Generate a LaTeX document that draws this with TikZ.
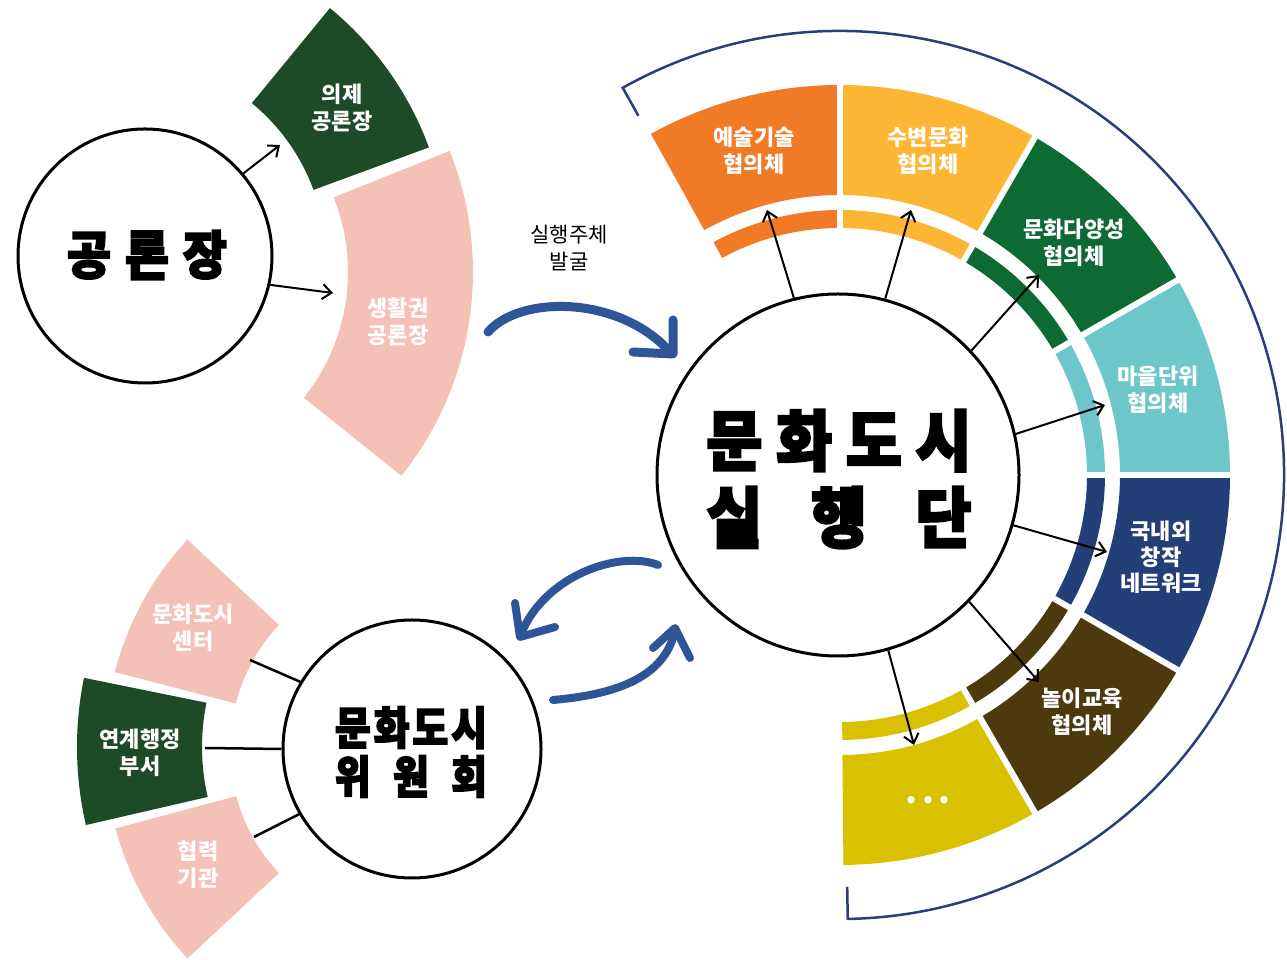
\documentclass[tikz,border=0pt]{standalone}
\usepackage{fontspec}
\usetikzlibrary{arrows.meta,calc}
\newfontfamily\kr{Noto Sans CJK KR}
\newfontfamily\krheavy[BoldFeatures={FakeBold=3.5,FakeStretch=0.92}]{Noto Sans CJK KR}
\newfontfamily\krheavynarrow[BoldFeatures={FakeBold=3.5,FakeStretch=0.86}]{Noto Sans CJK KR}
\definecolor{corange}{HTML}{F07A26}
\definecolor{clorange}{HTML}{FCB634}
\definecolor{cdgreen}{HTML}{0D6A33}
\definecolor{cteal}{HTML}{6CC6CA}
\definecolor{cnavy}{HTML}{233F77}
\definecolor{cbrown}{HTML}{4D390E}
\definecolor{colive}{HTML}{D8C200}
\definecolor{cforest}{HTML}{1D4A27}
\definecolor{cpink}{HTML}{F4C1B6}
\definecolor{cblue}{HTML}{2E5597}
\definecolor{cbracket}{HTML}{2B3D7A}
\newcommand\mysector[6]{%
  \fill[#6] ($(#1)+(#2:#5)$) arc[start angle=#2, end angle=#3, radius=#5]
    -- ($(#1)+(#3:#4)$) arc[start angle=#3, end angle=#2, radius=#4] -- cycle;}
\begin{document}
\begin{tikzpicture}[x=1pt,y=1pt,
  lbl/.style={text=white, font=\kr\bfseries\fontsize{22}{27}\selectfont, align=center, inner sep=0pt},
  bigc/.style={circle, draw=black, line width=3pt, fill=white, inner sep=0pt},
  heavy/.style={font=\krheavy\bfseries, align=center, inner sep=0pt},
  conn/.style={draw=black, line width=2pt, -{Straight Barb[length=9pt,width=15pt,line width=2pt]}},
  link/.style={draw=black, line width=2.5pt},
  bluearr/.style={draw=cblue, line width=9pt, line cap=round, line join=round},
  bracket/.style={draw=cbracket, line width=2.5pt, line join=miter},
]
\useasboundingbox (0,0) rectangle (1287,960);
% ---------------- main ring -----------------
\coordinate (R) at (840,485);
\mysector{R}{90}{119}{280}{390}{corange}
\mysector{R}{60}{90}{280}{390}{clorange}
\mysector{R}{30}{60}{280}{390}{cdgreen}
\mysector{R}{0}{30}{280}{390}{cteal}
\mysector{R}{-30}{0}{280}{390}{cnavy}
\mysector{R}{-60}{-30}{280}{390}{cbrown}
\mysector{R}{-89.5}{-60}{280}{390}{colive}
\mysector{R}{90}{118.5}{247}{265}{corange}
\mysector{R}{60}{90}{247}{265}{clorange}
\mysector{R}{30}{60}{247}{265}{cdgreen}
\mysector{R}{0}{30}{247}{265}{cteal}
\mysector{R}{-30}{0}{247}{265}{cnavy}
\mysector{R}{-60}{-30}{247}{265}{cbrown}
\mysector{R}{-89.5}{-60}{247}{265}{colive}
\foreach \a in {90,60,30,0,-30,-60}
  \draw[white, line width=6pt] ($(R)+(\a:240)$) -- ($(R)+(\a:396)$);
\draw[bracket] ($(R)+(119.3:412)$) -- ($(R)+(119.3:444)$)
   arc[start angle=119.3, end angle=-89, radius=444] -- ($(R)+(-89:412)$);
% ---------------- gong group -----------------
\coordinate (G1) at (123,700);
\coordinate (G2) at (147,688);
\mysector{G1}{20.2}{50.6}{203}{326}{cforest}
\mysector{G2}{-38.7}{21.8}{201}{326}{cpink}
% ---------------- wiwon group -----------------
\coordinate (W1) at (412,211);
\coordinate (W2) at (424,213);
\mysector{W1}{137}{165.5}{182}{307}{cpink}
\mysector{W1}{195}{223}{182}{307}{cpink}
\mysector{W2}{168.5}{193}{222}{347}{cforest}
% ---------------- circles -----------------
\node[bigc, minimum size=362pt] (exec) at (838,485) {};
\node[bigc, minimum size=254pt] (gong) at (145,704) {};
\node[bigc, minimum size=258pt] (wiwon) at (412,211) {};
\node[heavy, font=\krheavy\bfseries\fontsize{66}{77}\selectfont] (exectxt) at (839,481)
  {\makebox[265pt]{문\hfill 화\hfill 도\hfill 시}\\\makebox[265pt]{실\hfill 행\hfill 단}};
\node[heavy, font=\krheavy\bfseries\fontsize{52}{60}\selectfont] (gongtxt) at (147,705)
  {\makebox[160pt]{공\hfill 론\hfill 장}};
\node[heavy, font=\krheavynarrow\bfseries\fontsize{45}{49}\selectfont] (wiwontxt) at (411,208)
  {\makebox[152pt]{문\hfill 화\hfill 도\hfill 시}\\\makebox[152pt]{위\hfill 원\hfill 회}};
% ---------------- sector labels -----------------
\node[lbl] (l1) at (754,809) {예술기술\\협의체};
\node[lbl] (l2) at (928,809) {수변문화\\협의체};
\node[lbl] (l3) at (1074,717) {문화다양성\\협의체};
\node[lbl] (l4) at (1158,570) {마을단위\\협의체};
\node[lbl, font=\kr\bfseries\fontsize{22}{26}\selectfont] (l5) at (1161,403) {국내외\\창작\\네트워크};
\node[lbl] (l6) at (1082,248) {놀이교육\\협의체};
\node[lbl, font=\kr\bfseries\fontsize{34}{34}\selectfont] (l7) at (928,160) {.\kern5pt.\kern5pt.};
\node[lbl] (g1l) at (342,852) {의제\\공론장};
\node[lbl] (g2l) at (398,638) {생활권\\공론장};
\node[lbl] (w1l) at (193,332) {문화도시\\센터};
\node[lbl] (w2l) at (140,207) {연계행정\\부서};
\node[lbl] (w3l) at (198,95) {협력\\기관};
\node[font=\kr\fontsize{21}{27}\selectfont, align=center, inner sep=0pt] (find) at (569,712) {실행주체\\발굴};
% ---------------- arrows main -----------------
\coordinate (t1) at (767,750);
\coordinate (t2) at (911,750);
\coordinate (t3) at (1039,685);
\coordinate (t4) at (1105,555);
\coordinate (t5) at (1107,408);
\coordinate (t6) at (1039,278);
\coordinate (t7) at (914,215);
\draw[conn] (exec.104.6) -- (t1);
\draw[conn] (exec.75.8) -- (t2);
\draw[conn] (exec.43.5) -- (t3);
\draw[conn] (exec.13.9) -- (t4);
\draw[conn] (exec.-16.3) -- (t5);
\draw[conn] (exec.-44.3) -- (t6);
\draw[conn] (exec.-74.2) -- (t7);
% ---------------- arrows gong -----------------
\coordinate (ga) at (280,815);
\coordinate (gb) at (333,667);
\draw[conn] (gong.40) -- (ga);
\draw[conn] (gong.-13) -- (gb);
% ---------------- links wiwon -----------------
\coordinate (s1) at (250,300);
\coordinate (s2) at (205,212);
\coordinate (s3) at (254,123);
\draw[link] (s1) -- (wiwon.149);
\draw[link] (s2) -- (wiwon.180);
\draw[link] (s3) -- (wiwon.210);
% ---------------- blue arrows -----------------
\coordinate (b1s) at (488,628);
\coordinate (b1e) at (671,607);
\draw[bluearr] (b1s) .. controls (520,665) and (620,665) .. (b1e);
\draw[bluearr] (673,640) -- (673,606) -- (633,608);
\coordinate (b2s) at (658,395);
\coordinate (b2e) at (521,326);
\draw[bluearr, line width=8pt] (b2s) .. controls (620,410) and (545,385) .. (b2e);
\draw[bluearr, line width=8pt] (515,357) -- (520,323) -- (555,333);
\coordinate (b3s) at (553,260);
\coordinate (b3e) at (675,330);
\draw[bluearr, line width=8pt] (b3s) .. controls (610,265) and (665,280) .. (b3e);
\draw[bluearr, line width=8pt] (653,312) -- (675,332) -- (690,302);
\end{tikzpicture}
\end{document}
